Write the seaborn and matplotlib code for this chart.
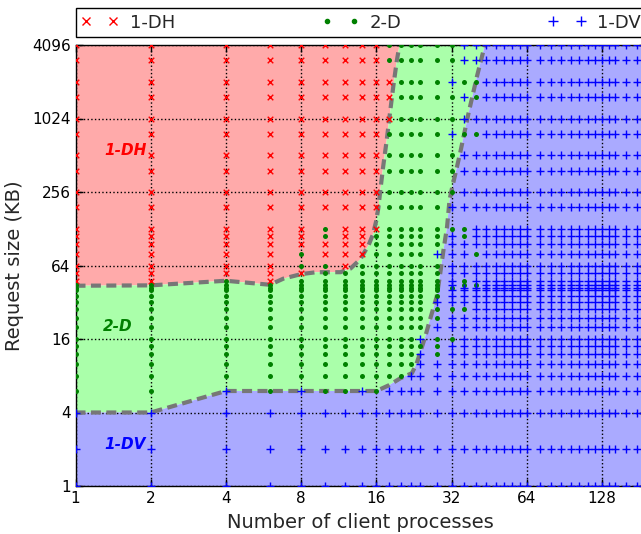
import matplotlib
matplotlib.use("Agg")
import matplotlib.pyplot as plt
from matplotlib.lines import Line2D
import numpy as np
import pandas as pd
import seaborn as sns

# Number of client processes (columns of the measurement grid)
procs = [1, 2, 4, 6, 8, 10, 12, 14, 16, 18, 20, 22, 24, 28, 32, 36, 40,
         44, 48, 52, 56, 60, 64, 72, 80, 88, 96, 104, 112, 120, 128, 136, 144, 160, 176]

# Request sizes in KB (rows, top to bottom)
sizes_kb = [4096, 3072, 2048, 1536, 1024, 768, 512, 384, 256, 192, 128, 112, 96, 80,
            64, 56, 48, 44, 42, 40, 36, 32, 28, 24, 20, 16, 14, 12, 10, 8, 6, 4, 2, 1]

# Best layout for every (size, procs) measurement:
# H = 1-DH, D = 2-D, V = 1-DV.  Left block: procs 1..40, right block: procs 44..176
winners = [
    "HHHHHHHHHDDDDDDVV" "VVVVVVVVVVVVVVVVVV",  # 4096
    "HHHHHHHHHDDDDDDVV" "VVVVVVVVVVVVVVVVVV",  # 3072
    "HHHHHHHHHHDDDDVDD" "VVVVVVVVVVVVVVVVVV",  # 2048
    "HHHHHHHHHHDDDDDVD" "VVVVVVVVVVVVVVVVVV",  # 1536
    "HHHHHHHHHHDDDDDVV" "VVVVVVVVVVVVVVVVVV",  # 1024
    "HHHHHHHHHDDDDDVDD" "VVVVVVVVVVVVVVVVVV",  # 768
    "HHHHHHHHHDDDDDDVV" "VVVVVVVVVVVVVVVVVV",  # 512
    "HHHHHHHHHDDDDDDVV" "VVVVVVVVVVVVVVVVVV",  # 384
    "HHHHHHHHHDDDDDDVV" "VVVVVVVVVVVVVVVVVV",  # 256
    "HHHHHHHHHDDDDDVVV" "VVVVVVVVVVVVVVVVVV",  # 192
    "HHHHHDHHHDDDDDDDV" "VVVVVVVVVVVVVVVVVV",  # 128
    "HHHHHDHHDDDDDDVDV" "VVVVVVVVVVVVVVVVVV",  # 112
    "HHHHHHHHDDDDDDVVV" "VVVVVVVVVVVVVVVVVV",  # 96
    "HHHHDHHHDDDDDVVVD" "VVVVVVVVVVVVVVVVVV",  # 80
    "HHHHDDHDDDDDDDVVV" "VVVVVVVVVVVVVVVVVV",  # 64
    "HHHHHDDDDDDDDDVVV" "VVVVVVVVVVVVVVVVVV",  # 56
    "HHDHDDDDDDDDDDVDV" "VVVVVVVVVVVVVVVVVV",  # 48
    "DDDDDDDDDDDDDDVDD" "VVVVVVVVVVVVVVVVVV",  # 44
    "DDDDDDDDDDDDDDDVV" "VVVVVVVVVVVVVVVVVV",  # 42
    "DDDDDDDDDDDDDDVVV" "VVVVVVVVVVVVVVVVVV",  # 40
    "DDDDDDDDDDDDDDVVV" "VVVVVVVVVVVVVVVVVV",  # 36
    "DDDDDDDDDDDDDVVVV" "VVVVVVVVVVVVVVVVVV",  # 32
    "DDDDDDDDDDDDDDDDV" "VVVVVVVVVVVVVVVVVV",  # 28
    "DDDDDDDDDDDDDDVVV" "VVVVVVVVVVVVVVVVVV",  # 24
    "DDDDDDDDDDDDDVVVV" "VVVVVVVVVVVVVVVVVV",  # 20
    "DDDDDDDDDDDDVDDVV" "VVVVVVVVVVVVVVVVVV",  # 16
    "DDDDDDDDDDDDDDVVV" "VVVVVVVVVVVVVVVVVV",  # 14
    "DDDDDDDDDDDDVDVVV" "VVVVVVVVVVVVVVVVVV",  # 12
    "DDDDDDDDDDDDVVVVV" "VVVVVVVVVVVVVVVVVV",  # 10
    "DDDDDDDDDDDVVVVVV" "VVVVVVVVVVVVVVVVVV",  # 8
    "DDVDVDDVDVVVVVVVV" "VVVVVVVVVVVVVVVVVV",  # 6
    "VVVVVVVVVVVVVVVVV" "VVVVVVVVVVVVVVVVVV",  # 4
    "VVVVVVVVVVVVVVVVV" "VVVVVVVVVVVVVVVVVV",  # 2
    "VVVVVVVVVVVVVVVVV" "VVVVVVVVVVVVVVVVVV",  # 1
]

# Region boundaries (procs, KB)
dh_edge_x = [1, 2, 4, 6, 6.8, 8, 9.2, 11.5, 12.6, 13.8, 14.9, 15.5, 16.0, 16.3, 16.6,
             17.0, 17.6, 18.2, 18.7, 19.3, 19.8]
dh_edge_y = [43.7, 44, 48, 44.5, 50, 54.4, 56.4, 56.4, 60.4, 72, 94, 115, 150, 190, 265,
             400, 680, 1200, 1870, 3000, 4096]
dv_edge_x = [1, 2, 4, 16, 18, 19.9, 22.2, 23.2, 23.9, 25.1, 26.2, 27.9, 28.7, 29.7,
             30.7, 31.4, 32.0, 34.6, 37.4, 40.4, 43.5]
dv_edge_y = [4, 4, 6, 6, 6.7, 7.6, 8.4, 10.1, 12.2, 16.7, 22.9, 35.5, 51.8, 85.6,
             133, 220, 265, 530, 1128, 2250, 4096]

series_names = {"H": "1-DH", "D": "2-D", "V": "1-DV"}

records = []
for size, row in zip(sizes_kb, winners):
    assert len(row) == len(procs)
    for p, w in zip(procs, row):
        records.append((p, size, w))
df = pd.DataFrame(records, columns=["procs", "size_kb", "winner"])

sns.set_style("ticks")
plt.rcParams["font.family"] = ["DejaVu Sans"]

fig = plt.figure(figsize=(6.41, 5.34), dpi=100)
ax = fig.add_axes([75.5 / 641, 48 / 534, 570.5 / 641, 441 / 534])
ax.set_xscale("log", base=2)
ax.set_yscale("log", base=2)

xmin, xmax, ymin, ymax = 1, 192, 1, 4096

# Shaded regions
red_x = dh_edge_x + [xmin]
red_y = dh_edge_y + [ymax]
green_x = dh_edge_x + dv_edge_x[::-1]
green_y = dh_edge_y + dv_edge_y[::-1]
blue_x = dv_edge_x + [xmax, xmax, xmin]
blue_y = dv_edge_y + [ymax, ymin, ymin]
ax.fill(red_x, red_y, color="#ffaaaa", lw=0, zorder=0.2)
ax.fill(green_x, green_y, color="#aaffaa", lw=0, zorder=0.2)
ax.fill(blue_x, blue_y, color="#aaaaff", lw=0, zorder=0.2)

# Dashed boundaries
for bx, by in [(dh_edge_x, dh_edge_y), (dv_edge_x, dv_edge_y)]:
    ax.plot(bx, by, color="#777777", lw=3, linestyle=(0, (2.4, 1.3)),
            dash_capstyle="butt", zorder=2)

# Measurement points
marker_styles = {
    "H": dict(marker="x", color="red", s=16, linewidth=1.0),
    "D": dict(marker="o", color="green", s=13, linewidth=0),
    "V": dict(marker="+", color="blue", s=28, linewidth=1.0),
}
for key, st in marker_styles.items():
    sub = df[df["winner"] == key]
    sns.scatterplot(data=sub, x="procs", y="size_kb", ax=ax, legend=False,
                    zorder=3, **st)

ax.set_xlim(xmin, xmax)
ax.set_ylim(ymin, ymax)

xt = [1, 2, 4, 8, 16, 32, 64, 128]
yt = [1, 4, 16, 64, 256, 1024, 4096]
ax.set_xticks(xt)
ax.set_xticklabels([str(v) for v in xt])
ax.set_yticks(yt)
ax.set_yticklabels([str(v) for v in yt])
ax.xaxis.set_minor_locator(matplotlib.ticker.NullLocator())
ax.yaxis.set_minor_locator(matplotlib.ticker.NullLocator())
ax.tick_params(direction="in", top=True, right=True, length=5, width=1,
               labelsize=11, colors="black")
ax.set_axisbelow("line")
ax.grid(True, which="major", color="black", linestyle=":", linewidth=1)
for sp in ax.spines.values():
    sp.set_color("black")
    sp.set_linewidth(1)

ax.set_xlabel("Number of client processes", fontsize=14, labelpad=5)
ax.set_ylabel("Request size (KB)", fontsize=14, labelpad=6)

label_font = dict(fontsize=11, fontweight="bold", fontstyle="italic",
                  ha="center", va="center", zorder=4)
ax.text(1.58, 565, "1-DH", color="red", **label_font)
ax.text(1.48, 20.1, "2-D", color="green", **label_font)
ax.text(1.58, 2.2, "1-DV", color="blue", **label_font)

handles = [
    Line2D([], [], marker="x", color="red", linestyle="none", markersize=6, mew=1),
    Line2D([], [], marker=".", color="green", linestyle="none", markersize=6),
    Line2D([], [], marker="+", color="blue", linestyle="none", markersize=7, mew=1),
]
leg = ax.legend(handles, [series_names[k] for k in "HDV"], loc="lower left",
                bbox_to_anchor=(0, 1.018, 1, 0.06), mode="expand", ncol=3,
                numpoints=2, fontsize=13, frameon=True, fancybox=False,
                edgecolor="black", framealpha=1, borderaxespad=0,
                borderpad=0.3, handlelength=2.1, handletextpad=0.6)
leg.get_frame().set_linewidth(1)

fig.savefig("out.png", dpi=100)
